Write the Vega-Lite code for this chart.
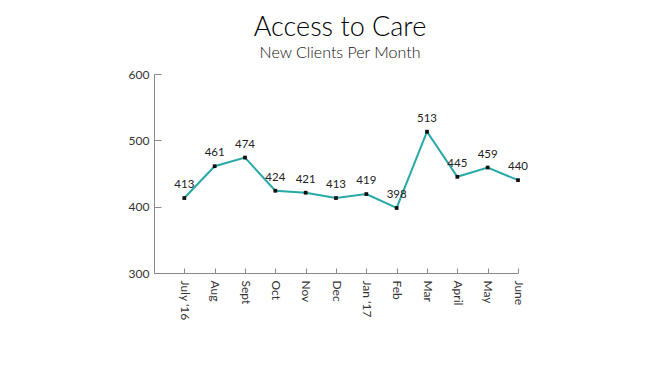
{
  "$schema": "https://vega.github.io/schema/vega-lite/v6.json",
  "width": 364,
  "height": 199,
  "autosize": {"type": "none"},
  "padding": {"left": 154, "top": 74, "right": 132, "bottom": 93},
  "background": "white",
  "title": {
    "text": "Access to Care",
    "subtitle": "New Clients Per Month",
    "anchor": "middle",
    "frame": "group",
    "font": "Lato",
    "fontSize": 27,
    "fontWeight": 300,
    "color": "#000000",
    "subtitleFont": "Lato",
    "subtitleFontSize": 16,
    "subtitleFontWeight": 300,
    "subtitleColor": "#111111",
    "subtitlePadding": 3,
    "offset": 6,
    "dx": 4
  },
  "config": {
    "view": {"stroke": null},
    "font": "Lato"
  },
  "data": {
    "values": [
      {"idx": 1, "month": "July '16", "clients": 413},
      {"idx": 2, "month": "Aug", "clients": 461},
      {"idx": 3, "month": "Sept", "clients": 474},
      {"idx": 4, "month": "Oct", "clients": 424},
      {"idx": 5, "month": "Nov", "clients": 421},
      {"idx": 6, "month": "Dec", "clients": 413},
      {"idx": 7, "month": "Jan '17", "clients": 419},
      {"idx": 8, "month": "Feb", "clients": 398},
      {"idx": 9, "month": "Mar", "clients": 513},
      {"idx": 10, "month": "April", "clients": 445},
      {"idx": 11, "month": "May", "clients": 459},
      {"idx": 12, "month": "June", "clients": 440}
    ]
  },
  "encoding": {
    "x": {
      "field": "idx",
      "type": "quantitative",
      "scale": {"domain": [0, 12], "nice": false, "zero": false},
      "axis": {
        "title": null,
        "values": [1, 2, 3, 4, 5, 6, 7, 8, 9, 10, 11, 12],
        "labelExpr": "[\"\", \"July '16\", \"Aug\", \"Sept\", \"Oct\", \"Nov\", \"Dec\", \"Jan '17\", \"Feb\", \"Mar\", \"April\", \"May\", \"June\"][datum.value]",
        "grid": false,
        "domainColor": "#8a8a8a",
        "tickColor": "#8a8a8a",
        "tickSize": -5,
        "labelAngle": 90,
        "labelAlign": "left",
        "labelBaseline": "middle",
        "labelPadding": 12,
        "labelFontSize": 12,
        "labelColor": "#333333",
        "labelFont": "Lato"
      }
    },
    "y": {
      "field": "clients",
      "type": "quantitative",
      "scale": {"domain": [300, 600], "nice": false, "zero": false},
      "axis": {
        "title": null,
        "values": [300, 400, 500, 600],
        "grid": false,
        "domainColor": "#8a8a8a",
        "tickColor": "#8a8a8a",
        "tickSize": -7,
        "labelPadding": 12,
        "labelFontSize": 12,
        "labelColor": "#333333",
        "labelFont": "Lato"
      }
    }
  },
  "layer": [
    {
      "mark": {"type": "line", "color": "#27a9a8", "strokeWidth": 2}
    },
    {
      "mark": {"type": "point", "shape": "square", "filled": true, "color": "#111111", "size": 14, "opacity": 1}
    },
    {
      "mark": {"type": "text", "dy": -13, "fontSize": 11.5, "color": "#222222", "font": "Lato"},
      "encoding": {"text": {"field": "clients", "type": "quantitative"}}
    }
  ]
}
